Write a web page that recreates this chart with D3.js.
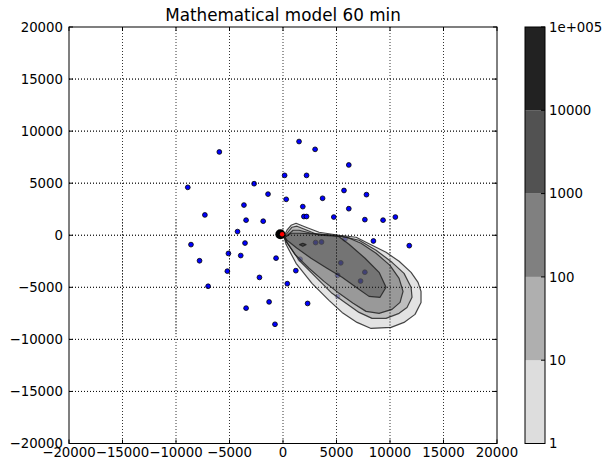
<!DOCTYPE html>
<html>
<head>
<meta charset="utf-8">
<script src="https://cdn.jsdelivr.net/npm/d3@7"></script>
<style>
  body { margin: 0; background: #fff; }
  svg text { font-family: "DejaVu Sans", sans-serif; fill: #000; }
</style>
</head>
<body>
<div id="chart"></div>
<script>
// tick values
const xTicks = [-20000, -15000, -10000, -5000, 0, 5000, 10000, 15000, 20000];
const yTicks = [-20000, -15000, -10000, -5000, 0, 5000, 10000, 15000, 20000];
const levels = [1, 10, 100, 1000, 10000, 100000];
const levelLabels = ['1', '10', '100', '1000', '10000', '1e+005'];
const levelColors = ['#dddddd', '#afafaf', '#808080', '#525252', '#222222'];

// stations (m)
const stations = [
  [1500, 9000], [3000, 8250], [-5950, 8000], [6150, 6750], [150, 5750],
  [2200, 5750], [-8900, 4600], [-2700, 4950], [5700, 4300], [7800, 3900],
  [-1400, 3950], [3700, 3550], [300, 3450], [-3650, 2900], [1850, 2750],
  [6150, 2550], [-7300, 1950], [1950, 1800], [2200, 1800], [-3450, 1450],
  [-1850, 1350], [4750, 1750], [7650, 1500], [9350, 1450], [10500, 1750],
  [-4250, 350], [8450, -550], [11800, -1000], [-8600, -900], [-3550, -750],
  [-7800, -2450], [-5100, -1750], [-3950, -1950], [-650, -2200], [-5200, -3450],
  [1200, -3400], [-2200, -4050], [-7000, -4900], [400, -4650], [-1300, -6400],
  [-3450, -7000], [2300, -6550], [-750, -8550],
  [3050, -700], [3600, -650], [5800, -350], [1600, -2300], [5400, -2650],
  [7650, -3550], [5100, -3850], [7250, -4400], [5100, -5900]
];
const source = [-250, 100];
const sourceRed = [-80, 100];

// contour outlines per level (m)
const contour1 = [
  [100, -100], [370, 480], [750, 960], [1220, 1150], [2150, 770], [3370, 290],
  [5240, 0], [6830, -190], [8320, -960], [9630, -1640], [10850, -2500],
  [11970, -3560], [12620, -4520], [12900, -5390], [12900, -6450], [12340, -7600],
  [11310, -8370], [10100, -8850], [8230, -8950], [6920, -8370], [5520, -7410],
  [4300, -6250], [2710, -4620], [1220, -2690], [280, -870]
];
const contour10 = [
  [90, -190], [840, 770], [1310, 870], [2240, 480], [3370, 0], [5520, -100],
  [7110, -480], [8700, -1440], [10190, -2600], [11310, -3660], [11970, -5000],
  [12060, -5960], [11590, -6930], [10850, -7500], [9630, -7980], [8320, -7980],
  [7110, -7410], [5890, -6540], [4580, -5580], [3090, -4040], [1500, -2400],
  [280, -580]
];
const contour100 = [
  [190, -190], [940, 480], [1500, 480], [2620, 190], [4300, 0], [5980, -190],
  [7290, -770], [8700, -1730], [10000, -2890], [10850, -4140], [11220, -5390],
  [10940, -6450], [10190, -7120], [8980, -7500], [7760, -7310], [6550, -6540],
  [5240, -5580], [3830, -4430], [2430, -3170], [1120, -1830], [370, -670]
];
const contour1000 = [
  [190, -190], [750, 190], [1500, 190], [3370, 100], [5050, 0], [6170, -870],
  [7670, -2210], [8980, -3560], [9630, -5000], [9070, -5960], [8040, -5870],
  [6830, -5000], [5520, -4040], [4110, -3170], [2620, -2210], [1310, -1250],
  [370, -480]
];
const contour10000 = [
  [1550, -900], [1850, -780], [2150, -900], [1850, -1060]
];
const contours = [contour1, contour10, contour100, contour1000, contour10000];

const W = 604, H = 459;
const pLeft = 69, pRight = 497, pTop = 27, pBottom = 443.5;
const cbLeft = 525, cbRight = 545;

const svg = d3.select('#chart')
  .append('svg')
  .attr('width', W)
  .attr('height', H);

const x = d3.scaleLinear().domain([-20000, 20000]).range([pLeft, pRight]);
const y = d3.scaleLinear().domain([-20000, 20000]).range([pBottom, pTop]);

const fmt = d3.format('d');

// grid
const grid = svg.append('g');
grid.selectAll('line.vx')
  .data(xTicks.slice(1, -1))
  .join('line')
  .attr('class', 'vx')
  .attr('x1', d => x(d)).attr('x2', d => x(d))
  .attr('y1', pTop).attr('y2', pBottom)
  .attr('stroke', '#000').attr('stroke-width', 0.8)
  .attr('stroke-dasharray', '1,2');
grid.selectAll('line.hy')
  .data(yTicks.slice(1, -1))
  .join('line')
  .attr('class', 'hy')
  .attr('y1', d => y(d)).attr('y2', d => y(d))
  .attr('x1', pLeft).attr('x2', pRight)
  .attr('stroke', '#000').attr('stroke-width', 0.8)
  .attr('stroke-dasharray', '1,2');

// stations
svg.append('g')
  .selectAll('circle')
  .data(stations)
  .join('circle')
  .attr('cx', d => x(d[0]))
  .attr('cy', d => y(d[1]))
  .attr('r', 2.4)
  .attr('fill', '#0000ff')
  .attr('stroke', '#000')
  .attr('stroke-width', 0.8);

// filled contours
const line = d3.line().x(d => x(d[0])).y(d => y(d[1]));
const plume = svg.append('g').attr('opacity', 0.8);
plume.selectAll('path')
  .data(contours)
  .join('path')
  .attr('d', d => line(d) + 'Z')
  .attr('fill', (d, i) => levelColors[i]);

svg.append('g')
  .selectAll('path')
  .data(contours)
  .join('path')
  .attr('d', d => line(d) + 'Z')
  .attr('fill', 'none')
  .attr('stroke', '#1a1a1a')
  .attr('stroke-opacity', 0.8)
  .attr('stroke-width', 1.2)
  .attr('stroke-linejoin', 'round');

// grid again over the plume
const g2 = svg.append('g');
g2.selectAll('line.vx')
  .data(xTicks.slice(1, -1))
  .join('line')
  .attr('class', 'vx')
  .attr('x1', d => x(d)).attr('x2', d => x(d))
  .attr('y1', y(1500)).attr('y2', y(-9500))
  .attr('stroke', '#000').attr('stroke-width', 0.8)
  .attr('stroke-dasharray', '1,2');
g2.selectAll('line.hy')
  .data(yTicks.slice(1, -1))
  .join('line')
  .attr('class', 'hy')
  .attr('y1', d => y(d)).attr('y2', d => y(d))
  .attr('x1', pLeft).attr('x2', pRight)
  .attr('stroke', '#000').attr('stroke-width', 0.8)
  .attr('stroke-dasharray', '1,2');

// source marker
svg.append('circle')
  .attr('cx', x(source[0])).attr('cy', y(source[1]))
  .attr('r', 5).attr('fill', '#000');
svg.append('circle')
  .attr('cx', x(sourceRed[0])).attr('cy', y(sourceRed[1]))
  .attr('r', 2.2).attr('fill', '#ff0000');

// frame
svg.append('rect')
  .attr('x', pLeft).attr('y', pTop)
  .attr('width', pRight - pLeft).attr('height', pBottom - pTop)
  .attr('fill', 'none').attr('stroke', '#000').attr('stroke-width', 1);

// inward ticks on all sides
const tk = svg.append('g').attr('stroke', '#000').attr('stroke-width', 1);
xTicks.forEach(t => {
  tk.append('line').attr('x1', x(t)).attr('x2', x(t)).attr('y1', pBottom).attr('y2', pBottom - 4);
  tk.append('line').attr('x1', x(t)).attr('x2', x(t)).attr('y1', pTop).attr('y2', pTop + 4);
});
yTicks.forEach(t => {
  tk.append('line').attr('y1', y(t)).attr('y2', y(t)).attr('x1', pLeft).attr('x2', pLeft + 4);
  tk.append('line').attr('y1', y(t)).attr('y2', y(t)).attr('x1', pRight).attr('x2', pRight - 4);
});

// tick labels
svg.append('g')
  .selectAll('text')
  .data(xTicks)
  .join('text')
  .attr('x', d => x(d))
  .attr('y', pBottom + 3)
  .attr('dy', '0.76em')
  .attr('text-anchor', 'middle')
  .style('font-size', '13.3px')
  .text(d => fmt(d));

svg.append('g')
  .selectAll('text')
  .data(yTicks)
  .join('text')
  .attr('x', pLeft - 6)
  .attr('y', d => y(d))
  .attr('dy', '0.36em')
  .attr('text-anchor', 'end')
  .style('font-size', '13.3px')
  .text(d => fmt(d));

// title
svg.append('text')
  .attr('x', (pLeft + pRight) / 2)
  .attr('y', 20.5)
  .attr('text-anchor', 'middle')
  .style('font-size', '16.8px')
  .text('Mathematical model 60 min');

// colorbar
const cy = d3.scaleLog().domain([1, 100000]).range([pBottom, pTop]);
const cb = svg.append('g');
cb.selectAll('rect')
  .data(levelColors)
  .join('rect')
  .attr('x', cbLeft)
  .attr('width', cbRight - cbLeft)
  .attr('y', (d, i) => cy(levels[i + 1]))
  .attr('height', (d, i) => cy(levels[i]) - cy(levels[i + 1]))
  .attr('fill', d => d);

cb.append('rect')
  .attr('x', cbLeft).attr('y', pTop)
  .attr('width', cbRight - cbLeft).attr('height', pBottom - pTop)
  .attr('fill', 'none').attr('stroke', '#000').attr('stroke-width', 1);

cb.selectAll('line')
  .data(levels)
  .join('line')
  .attr('x1', cbRight).attr('x2', cbRight - 4)
  .attr('y1', d => cy(d)).attr('y2', d => cy(d))
  .attr('stroke', '#000');

cb.selectAll('text')
  .data(levels)
  .join('text')
  .attr('x', cbRight + 4)
  .attr('y', d => cy(d))
  .attr('dy', '0.36em')
  .style('font-size', '13.3px')
  .text((d, i) => levelLabels[i]);
</script>
</body>
</html>
